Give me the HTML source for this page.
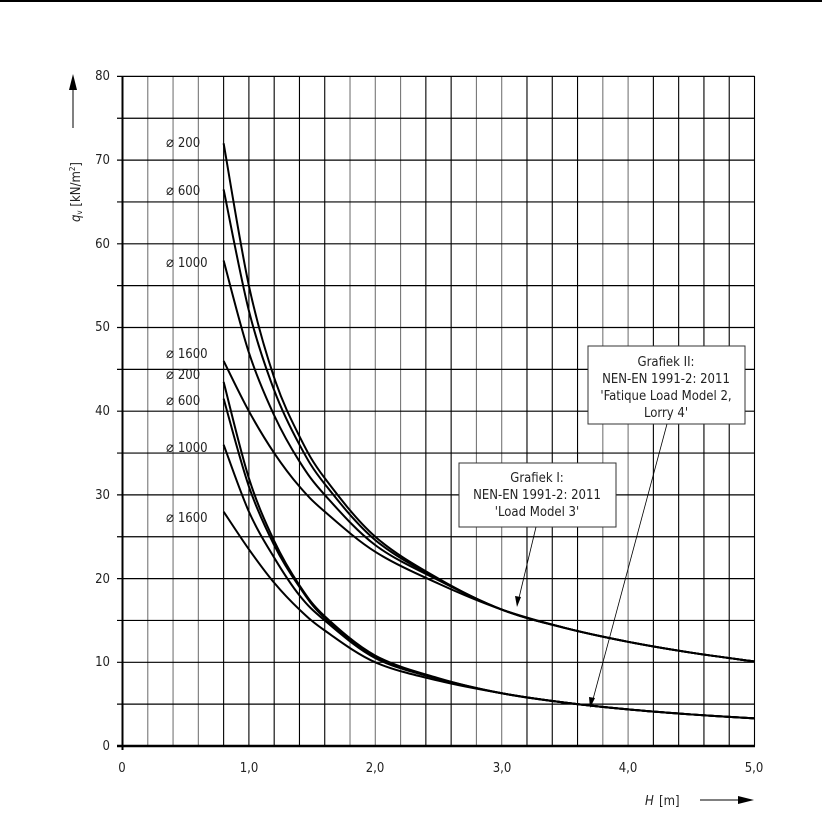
<!DOCTYPE html>
<html><head><meta charset="utf-8"><style>
html,body{margin:0;padding:0;background:#fff}
svg{display:block}
text{font-family:"DejaVu Sans Condensed","Liberation Sans Narrow","Liberation Sans",sans-serif;fill:#222}
</style></head><body>
<svg id="s" width="822" height="818" viewBox="0 0 822 818" xmlns="http://www.w3.org/2000/svg">
<rect x="0" y="0" width="822" height="2" fill="#000"/>
<g id="grid"></g>
<g id="curves" fill="none" stroke="#000" stroke-width="2"></g>
<line x1="122.5" y1="76" x2="122.5" y2="750" stroke="#000" stroke-width="2"/>
<line x1="117" y1="746" x2="755" y2="746" stroke="#000" stroke-width="2.5"/>
<g font-size="13">
<text x="110" y="80" text-anchor="end">80</text>
<text x="110" y="164" text-anchor="end">70</text>
<text x="110" y="248" text-anchor="end">60</text>
<text x="110" y="331" text-anchor="end">50</text>
<text x="110" y="415" text-anchor="end">40</text>
<text x="110" y="499" text-anchor="end">30</text>
<text x="110" y="583" text-anchor="end">20</text>
<text x="110" y="666" text-anchor="end">10</text>
<text x="110" y="750" text-anchor="end">0</text>
<text x="122" y="772" text-anchor="middle">0</text>
<text x="249" y="772" text-anchor="middle">1,0</text>
<text x="375" y="772" text-anchor="middle">2,0</text>
<text x="502" y="772" text-anchor="middle">3,0</text>
<text x="628" y="772" text-anchor="middle">4,0</text>
<text x="754" y="772" text-anchor="middle">5,0</text>
<text x="166" y="147"><tspan font-size="15">⌀</tspan> 200</text>
<text x="166" y="195"><tspan font-size="15">⌀</tspan> 600</text>
<text x="166" y="267"><tspan font-size="15">⌀</tspan> 1000</text>
<text x="166" y="358"><tspan font-size="15">⌀</tspan> 1600</text>
<text x="166" y="379"><tspan font-size="15">⌀</tspan> 200</text>
<text x="166" y="405"><tspan font-size="15">⌀</tspan> 600</text>
<text x="166" y="452"><tspan font-size="15">⌀</tspan> 1000</text>
<text x="166" y="522"><tspan font-size="15">⌀</tspan> 1600</text>
<text x="645" y="805" font-style="italic">H</text><text x="659" y="805">[m]</text>
</g>
<line x1="700" y1="800" x2="740" y2="800" stroke="#000" stroke-width="1"/>
<polygon points="754,800 738,796 738,804" fill="#000"/>
<line x1="73" y1="88" x2="73" y2="128" stroke="#000" stroke-width="1"/>
<polygon points="73,74 69,90 77,90" fill="#000"/>
<text transform="translate(80,222) rotate(-90)" font-size="13"><tspan font-style="italic">q</tspan><tspan font-size="8" dy="2">v</tspan><tspan dy="-2"> [kN/m</tspan><tspan font-size="8" dy="-5">2</tspan><tspan dy="5">]</tspan></text>
<rect x="588" y="346" width="157" height="78" fill="#fff" stroke="#333" stroke-width="1"/>
<g font-size="13" text-anchor="middle">
<text x="666" y="366">Grafiek II:</text>
<text x="666" y="383">NEN-EN 1991-2: 2011</text>
<text x="666" y="400">'Fatique Load Model 2,</text>
<text x="666" y="417">Lorry 4'</text>
</g>
<rect x="459" y="463" width="157" height="64" fill="#fff" stroke="#333" stroke-width="1"/>
<g font-size="13" text-anchor="middle">
<text x="537" y="482">Grafiek I:</text>
<text x="537" y="499">NEN-EN 1991-2: 2011</text>
<text x="537" y="516">'Load Model 3'</text>
</g>
<line x1="667" y1="424" x2="592" y2="703" stroke="#000" stroke-width="0.8"/>
<polygon points="590,708 589,697 595,698" fill="#000"/>
<line x1="536" y1="527" x2="518" y2="602" stroke="#000" stroke-width="0.8"/>
<polygon points="517,607 515,596 521,597" fill="#000"/>
</svg>
<script>
var X=function(h){return 122.5+h*126.4},Y=function(q){return 746-q*8.37};
var g=document.getElementById('grid'),s='';
for(var i=1;i<=25;i++){var x=X(i*0.2);var c=(i<=3||(i>=9&&i<=11)||i==14||i==15||i==19||i==20)?'#777':'#000';
s+='<line x1="'+x+'" y1="76" x2="'+x+'" y2="746" stroke="'+c+'" stroke-width="1.1"/>';}
for(var j=1;j<=16;j++){var y=Y(j*5);s+='<line x1="117" y1="'+y+'" x2="'+X(5)+'" y2="'+y+'" stroke="#000" stroke-width="1.2"/>';}
g.innerHTML=s;
var H=[0.8,1.0,1.2,1.4,1.6,2.0,2.5,3.0,3.5,4.0,4.5,5.0];
function tail(a,b,h){var n=Math.log(a/b)/Math.log(5/3);return a*Math.pow(3/h,n);}
var up=[3.0,3.5,4.0,4.5,5.0].map(function(h){return tail(16.3,10.1,h)});
var lo=[3.0,3.5,4.0,4.5,5.0].map(function(h){return tail(6.3,3.3,h)});
var C=[
[72,55,44,37,32,25,20].concat(up),
[66.5,52,42.5,36,31.3,24.6,19.9].concat(up),
[58,47,39.5,34,30,24,19.8].concat(up),
[46,40,35,31,28,23.2,19.4].concat(up),
[43.5,32,24.5,19.2,15.5,10.8,8.1].concat(lo),
[41.5,31,24,19,15.3,10.7,8.05].concat(lo),
[36,28,22.5,18,15,10.5,8].concat(lo),
[28,23.5,19.5,16.3,13.8,10,7.8].concat(lo)];
var out='';
C.forEach(function(q){var p=H.map(function(h,k){return[X(h),Y(q[k])]});
var d='M'+p[0][0]+','+p[0][1];
for(var k=0;k<p.length-1;k++){var p0=p[k-1]||p[k],p1=p[k],p2=p[k+1],p3=p[k+2]||p2;
d+=' C'+(p1[0]+(p2[0]-p0[0])/6)+','+(p1[1]+(p2[1]-p0[1])/6)+' '+(p2[0]-(p3[0]-p1[0])/6)+','+(p2[1]-(p3[1]-p1[1])/6)+' '+p2[0]+','+p2[1];}
out+='<path d="'+d+'"/>';});
document.getElementById('curves').innerHTML=out;
</script>
</body></html>
